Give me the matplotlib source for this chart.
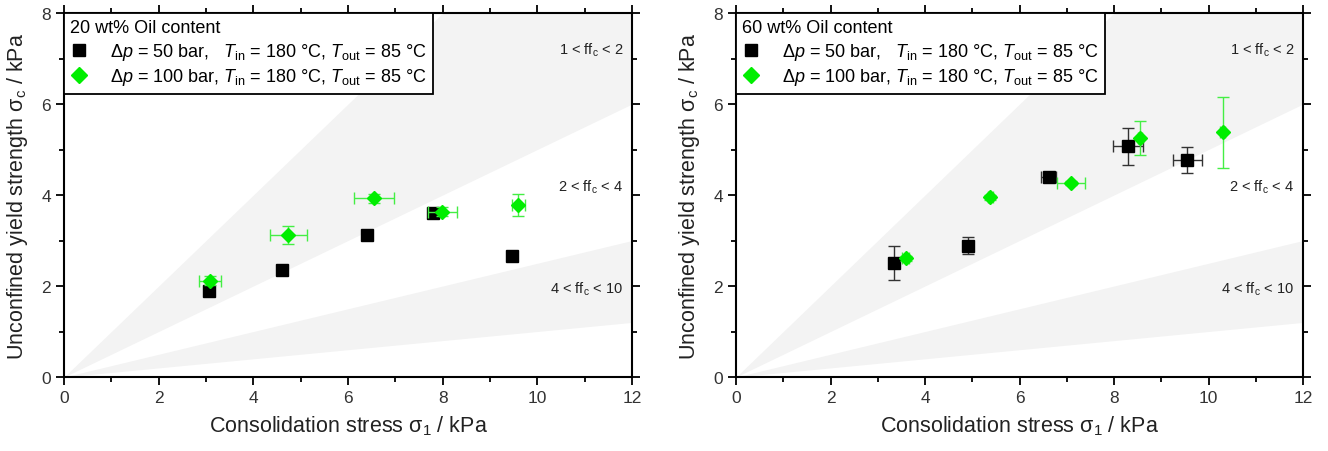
import numpy as np
import matplotlib
matplotlib.use("Agg")
import matplotlib.pyplot as plt
from matplotlib.lines import Line2D

plt.rcParams['font.family'] = ['Liberation Sans', 'DejaVu Sans']
plt.rcParams['mathtext.fontset'] = 'custom'
plt.rcParams['mathtext.rm'] = 'Liberation Sans'
plt.rcParams['mathtext.it'] = 'Liberation Sans:italic'
plt.rcParams['mathtext.bf'] = 'Liberation Sans:bold'

# ---- data ----
titles = ["20 wt% Oil content", "60 wt% Oil content"]
labels = [r"$\Delta p$ = 50 bar,   $T_{\rm in}$ = 180 °C, $T_{\rm out}$ = 85 °C",
          r"$\Delta p$ = 100 bar, $T_{\rm in}$ = 180 °C, $T_{\rm out}$ = 85 °C"]

# 20 wt% oil
a_s1_50 = [3.07, 4.60, 6.40, 7.80, 9.46]
a_sc_50 = [1.90, 2.35, 3.12, 3.60, 2.67]
a_xe_50 = [0.05, 0.05, 0.05, 0.05, 0.05]
a_ye_50 = [0.03, 0.03, 0.03, 0.03, 0.03]
a_s1_100 = [3.08, 4.74, 6.55, 7.99, 9.60]
a_sc_100 = [2.12, 3.12, 3.93, 3.63, 3.78]
a_xe_100 = [0.23, 0.39, 0.42, 0.31, 0.14]
a_ye_100 = [0.10, 0.20, 0.10, 0.10, 0.24]

# 60 wt% oil
b_s1_50 = [3.35, 4.90, 6.62, 8.30, 9.55]
b_sc_50 = [2.50, 2.89, 4.40, 5.07, 4.77]
b_xe_50 = [0.05, 0.08, 0.16, 0.32, 0.31]
b_ye_50 = [0.37, 0.18, 0.10, 0.40, 0.29]
b_s1_100 = [3.59, 5.38, 7.09, 8.55, 10.30]
b_sc_100 = [2.61, 3.95, 4.26, 5.25, 5.38]
b_xe_100 = [0.08, 0.05, 0.30, 0.05, 0.05]
b_ye_100 = [0.05, 0.05, 0.05, 0.38, 0.78]

ffc_bounds_shaded = [(1, 2), (4, 10)]
region_labels = [r"1 < ff$_{\rm c}$ < 2", r"2 < ff$_{\rm c}$ < 4", r"4 < ff$_{\rm c}$ < 10"]
region_y = [7.2, 4.2, 1.95]

fig = plt.figure(figsize=(13.28, 4.52), dpi=100)
ax1 = fig.add_axes([64/1328, 1-378/452, 568/1328, 364/452])
ax2 = fig.add_axes([736/1328, 1-378/452, 567/1328, 364/452])

green = '#00ee00'
green_err = '#44ee44'

panels = [
    (ax1, titles[0], (a_s1_50, a_sc_50, a_xe_50, a_ye_50), (a_s1_100, a_sc_100, a_xe_100, a_ye_100)),
    (ax2, titles[1], (b_s1_50, b_sc_50, b_xe_50, b_ye_50), (b_s1_100, b_sc_100, b_xe_100, b_ye_100)),
]

xs = np.linspace(0, 12, 200)
for ax, title, s50, s100 in panels:
    for lo, hi in ffc_bounds_shaded:
        ax.fill_between(xs, xs / hi, np.minimum(xs / lo, 8), color='#f3f3f3', lw=0, zorder=0)
    for lab, yy in zip(region_labels, region_y):
        ax.text(11.82, yy, lab, ha='right', va='center', fontsize=10.5, color='#222222')
    ax.errorbar(s50[0], s50[1], xerr=s50[2], yerr=s50[3], fmt='s', color='black',
                ms=8, ecolor='#333333', elinewidth=1, capsize=4, capthick=1, zorder=3)
    ax.errorbar(s100[0], s100[1], xerr=s100[2], yerr=s100[3], fmt='D', color=green,
                ms=7, ecolor=green_err, elinewidth=1, capsize=4, capthick=1, zorder=4)
    h1 = Line2D([], [], marker='s', ls='none', color='black', ms=8, label=labels[0])
    h2 = Line2D([], [], marker='D', ls='none', color=green, ms=8, label=labels[1])
    ax.set_xlim(0, 12)
    ax.set_ylim(0, 8)
    ax.set_xticks(np.arange(0, 13, 2))
    ax.set_yticks(np.arange(0, 9, 2))
    ax.set_xticks(np.arange(1, 12, 2), minor=True)
    ax.set_yticks(np.arange(1, 8, 2), minor=True)
    ax.tick_params(which='both', direction='out', top=True, right=True, colors='black',
                   labelcolor='#333333', labelsize=12.5, width=1.3)
    ax.tick_params(which='major', length=6)
    ax.tick_params(which='minor', length=3.5)
    for sp in ax.spines.values():
        sp.set_linewidth(1.5)
    ax.set_xlabel(r"Consolidation stress σ$_{\rm 1}$ / kPa", fontsize=15.5, color='#222222', labelpad=6)
    ax.set_ylabel(r"Unconfined yield strength σ$_{\rm c}$ / kPa", fontsize=15.5, color='#222222', labelpad=8)
    leg = ax.legend(handles=[h1, h2], loc='upper left', title=title, fontsize=13,
                    title_fontsize=13, frameon=True, fancybox=False, borderaxespad=0,
                    handletextpad=1.2, handlelength=1.0, borderpad=0.35, labelspacing=0.25)
    leg._legend_box.align = 'left'
    leg.get_frame().set_edgecolor('black')
    leg.get_frame().set_linewidth(1.3)
    leg.get_frame().set_alpha(1)
    leg.set_zorder(10)

fig.savefig('out.png', dpi=100)
